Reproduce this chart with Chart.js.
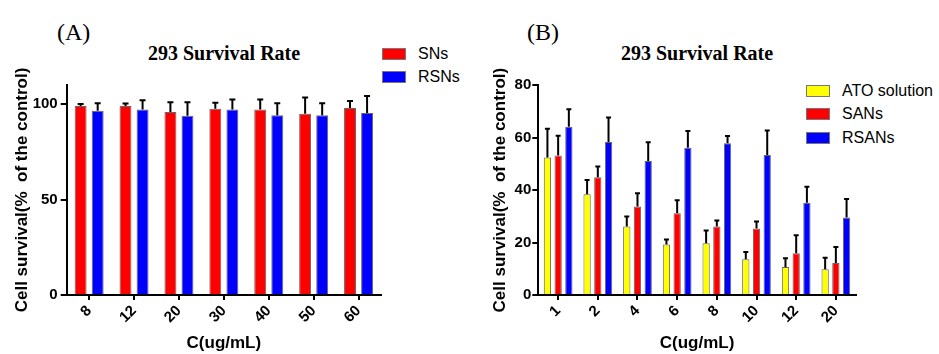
<!DOCTYPE html>
<html>
<head>
<meta charset="utf-8">
<script src="https://cdn.jsdelivr.net/npm/chart.js@4"></script>
<style>
  body { margin: 0; background: #fff; width: 939px; height: 354px; overflow: hidden; position: relative;
         font-family: "Liberation Sans", Arial, sans-serif; }
  canvas { position: absolute; top: 0; }
  .tag { position: absolute; top: 18px; font-family: "Liberation Serif", "Times New Roman", serif;
         font-size: 24px; line-height: 28px; }
  .title { position: absolute; top: 42px; transform: translateX(-50%); white-space: nowrap;
           font-family: "Liberation Serif", "Times New Roman", serif; font-weight: bold; font-size: 20px; line-height: 22px; }
  .legend { position: absolute; font-size: 16px; }
  .legend .row { height: 23.5px; display: flex; align-items: center; }
  .legend .sw { width: 22px; height: 10px; border: 1px solid #777; margin-right: 12px; }
</style>
</head>
<body>
<div class="tag" style="left:57px">(A)</div>
<div class="tag" style="left:527px">(B)</div>
<div class="title" style="left:224px">293 Survival Rate</div>
<div class="title" style="left:697px">293 Survival Rate</div>
<div class="legend" id="legendA" style="left:382px; top:42px"></div>
<div class="legend" id="legendB" style="left:806px; top:79px"></div>
<canvas id="chartA" width="470" height="354" style="left:0"></canvas>
<canvas id="chartB" width="469" height="354" style="left:470px"></canvas>
<script>
// panel A data
const catsA = ['8', '12', '20', '30', '40', '50', '60'];
const snsMean = [99, 99, 95.8, 97.5, 97.2, 95, 98];
const snsErr = [1, 1.3, 5.2, 3.2, 5.2, 8.5, 3.6];
const rsnsMean = [96.5, 97.2, 93.9, 97.2, 94.2, 94.2, 95.3];
const rsnsErr = [4, 4.8, 7.1, 5.2, 6.3, 6.3, 8.9];
const ticksA = [0, 50, 100];

// panel B data
const catsB = ['1', '2', '4', '6', '8', '10', '12', '20'];
const atoMean = [52.5, 38.4, 26.1, 19.3, 19.7, 13.6, 10.7, 9.8];
const atoErr = [10.9, 5.5, 3.8, 1.9, 4.9, 2.8, 3.3, 4.4];
const sansMean = [53.2, 44.9, 33.8, 31.2, 26.1, 25.4, 15.9, 12.2];
const sansErr = [7.6, 4.1, 5.0, 4.9, 2.3, 2.6, 6.9, 6.1];
const rsansMean = [64.2, 58.4, 51.1, 56.2, 57.9, 53.4, 35.2, 29.6];
const rsansErr = [6.7, 9.3, 7.2, 6.4, 2.8, 9.4, 6.1, 7.0];
const ticksB = [0, 20, 40, 60, 80];

const FONT = '"Liberation Sans", Arial, sans-serif';
Chart.defaults.font.family = FONT;
Chart.defaults.color = '#000';

// draws the upper error bar (line + cap) above every bar
const errorBars = {
  id: 'errorBars',
  afterDatasetsDraw(chart, args, opts) {
    const ctx = chart.ctx;
    const y = chart.scales.y;
    chart.data.datasets.forEach((ds, i) => {
      const meta = chart.getDatasetMeta(i);
      meta.data.forEach((bar, j) => {
        const top = y.getPixelForValue(ds.data[j] + ds.errors[j]);
        ctx.save();
        ctx.strokeStyle = '#000';
        ctx.lineWidth = 2;
        ctx.beginPath();
        ctx.moveTo(bar.x, bar.y);
        ctx.lineTo(bar.x, top);
        ctx.moveTo(bar.x - opts.cap, top);
        ctx.lineTo(bar.x + opts.cap, top);
        ctx.stroke();
        ctx.restore();
      });
    });
  }
};

function makeLegend(id, sets) {
  document.getElementById(id).innerHTML = sets.map(s =>
    `<div class="row"><span class="sw" style="background:${s.color}"></span>${s.label}</div>`).join('');
}

function makeChart(id, labels, sets, box) {
  return new Chart(document.getElementById(id), {
    type: 'bar',
    data: {
      labels: labels,
      datasets: sets.map(s => ({
        label: s.label,
        data: s.data,
        errors: s.err,
        backgroundColor: s.color,
        borderColor: '#666',
        borderWidth: 1,
        categoryPercentage: box.catPct,
        barPercentage: box.barPct
      }))
    },
    options: {
      responsive: false,
      animation: false,
      devicePixelRatio: 1,
      layout: { padding: { left: 0, right: box.right, top: box.top, bottom: 0 } },
      plugins: {
        legend: { display: false },
        tooltip: { enabled: false },
        errorBars: { cap: box.cap }
      },
      scales: {
        x: {
          offset: true,
          grid: { drawOnChartArea: false, offset: false, tickLength: 5, color: '#000', lineWidth: 2 },
          border: { color: '#000', width: 2 },
          ticks: { minRotation: 45, maxRotation: 45, padding: 2, font: { size: 15, weight: 'bold' } },
          title: { display: true, text: 'C(ug/mL)', font: { size: 17, weight: 'bold' }, padding: { top: 0, bottom: 0 } },
          afterFit(s) { s.height = 59; }
        },
        y: {
          min: 0,
          max: box.yMax,
          grid: { drawOnChartArea: false, tickLength: 6, color: '#000', lineWidth: 2 },
          border: { color: '#000', width: 2 },
          ticks: { padding: box.tickPad, font: { size: 15, weight: 'bold' } },
          afterBuildTicks(s) { s.ticks = box.ticks.map(v => ({ value: v })); },
          title: { display: true, text: 'Cell survival(%  of the control)', font: { size: 17, weight: 'bold' },
                   padding: { top: box.titlePad, bottom: 0 } },
          afterFit(s) { s.width = box.axisW; }
        }
      }
    },
    plugins: [errorBars]
  });
}

const setsA = [
  { label: 'SNs', data: snsMean, err: snsErr, color: '#ff0000' },
  { label: 'RSNs', data: rsnsMean, err: rsnsErr, color: '#0000ff' }
];
const setsB = [
  { label: 'ATO solution', data: atoMean, err: atoErr, color: '#ffff00' },
  { label: 'SANs', data: sansMean, err: sansErr, color: '#ff0000' },
  { label: 'RSANs', data: rsansMean, err: rsansErr, color: '#0000ff' }
];

makeLegend('legendA', setsA);
makeLegend('legendB', setsB);

makeChart('chartA', catsA, setsA, {
  yMax: 110, ticks: ticksA, axisW: 66.7, right: 89, top: 85,
  catPct: 0.76, barPct: 0.7, cap: 3, tickPad: 3, titlePad: 12
});
makeChart('chartB', catsB, setsB, {
  yMax: 80, ticks: ticksB, axisW: 68.3, right: 83.3, top: 85.3,
  catPct: 0.81, barPct: 0.68, cap: 2.5, tickPad: 1, titlePad: 20
});
</script>
</body>
</html>
